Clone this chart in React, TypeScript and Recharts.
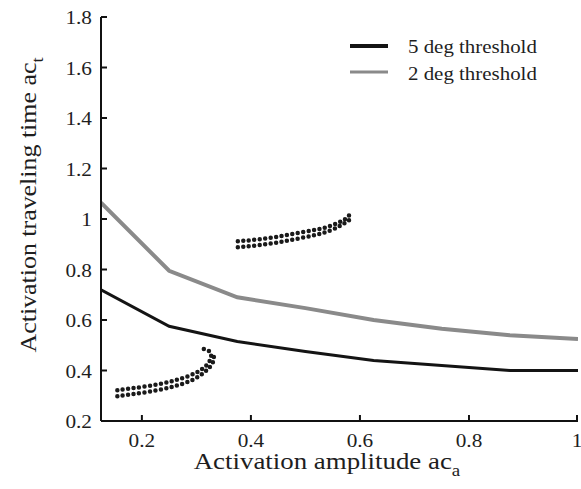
import React from "react";
import { ComposedChart, Line, XAxis, YAxis } from "recharts";

// Activation amplitude samples and the travel times for each threshold
const amplitudes = [0.125, 0.25, 0.375, 0.5, 0.625, 0.75, 0.875, 1];
const time5deg = [0.72, 0.575, 0.515, 0.475, 0.44, 0.42, 0.4, 0.4];
const time2deg = [1.065, 0.795, 0.69, 0.647, 0.6, 0.565, 0.54, 0.525];

const xTicks = [0.2, 0.4, 0.6, 0.8, 1];
const yTicks = [0.2, 0.4, 0.6, 0.8, 1, 1.2, 1.4, 1.6, 1.8];

// Dotted trajectory traces, each drawn as two neighbouring rows of beads
const upperTop: [number, number][] = [
  [0.376, 0.912], [0.4, 0.916], [0.43, 0.924], [0.46, 0.934], [0.49, 0.946],
  [0.52, 0.958], [0.545, 0.972], [0.565, 0.99], [0.578, 1.008], [0.582, 1.028],
];
const upperBottom: [number, number][] = [
  [0.376, 0.888], [0.4, 0.893], [0.43, 0.901], [0.46, 0.911], [0.49, 0.924],
  [0.52, 0.938], [0.545, 0.954], [0.565, 0.975], [0.582, 0.998],
];
const lowerTop: [number, number][] = [
  [0.155, 0.322], [0.18, 0.329], [0.21, 0.338], [0.24, 0.35], [0.265, 0.364],
  [0.29, 0.382], [0.31, 0.405], [0.322, 0.43], [0.327, 0.455], [0.324, 0.475],
  [0.316, 0.484], [0.305, 0.487],
];
const lowerBottom: [number, number][] = [
  [0.155, 0.298], [0.18, 0.306], [0.21, 0.315], [0.24, 0.327], [0.265, 0.341],
  [0.29, 0.36], [0.31, 0.385], [0.325, 0.415], [0.332, 0.445], [0.33, 0.47],
];

const SERIES = [
  { key: "t5", name: "5 deg threshold", color: "#141414", width: 3, legendWidth: 4 },
  { key: "t2", name: "2 deg threshold", color: "#8a8a8a", width: 4, legendWidth: 3 },
];

const FONT = "Liberation Serif";
const INK = "#1e1e1e";

const rows = amplitudes.map((x, i) => ({ x, t5: time5deg[i], t2: time2deg[i] }));
const traces = [upperTop, upperBottom, lowerTop, lowerBottom].map((pts) =>
  pts.map(([x, y]) => ({ x, y }))
);

// serif text, stretched a little horizontally like the printed figure
const Label = ({ x, y, anchor = "start", size, sx = 1.12, rotate = 0, children }: any) => (
  <text
    transform={`translate(${x} ${y}) rotate(${rotate}) scale(${sx} 1)`}
    textAnchor={anchor}
    fontFamily={FONT}
    fontSize={size}
    fill={INK}
  >
    {children}
  </text>
);

const XLabel = () => (
  <Label x={327} y={469} anchor="middle" size={24}>
    Activation amplitude ac
    <tspan dy={7} fontSize={17}>a</tspan>
  </Label>
);

const YLabel = () => (
  <Label x={36} y={205} anchor="middle" size={24} rotate={-90} sx={1.08}>
    Activation traveling time ac
    <tspan dy={7} fontSize={17}>t</tspan>
  </Label>
);

// Inward tick mark plus its label
const AxisTick = ({ x, y, payload, orientation }: any) => {
  const label = String(payload.value);
  if (orientation === "bottom") {
    return (
      <g>
        <line x1={x} x2={x} y1={421} y2={415} stroke="#111" strokeWidth={2} />
        <Label x={x} y={447} anchor="middle" size={19}>{label}</Label>
      </g>
    );
  }
  return (
    <g>
      <line x1={101} x2={107} y1={y} y2={y} stroke="#111" strokeWidth={2} />
      <Label x={92} y={y + 7} anchor="end" size={19}>{label}</Label>
    </g>
  );
};

const LegendBox = () => (
  <svg width={581} height={489} style={{ position: "absolute", left: 0, top: 0, pointerEvents: "none" }}>
    {SERIES.map((s, i) => (
      <g key={s.key}>
        <line x1={350} x2={388} y1={46 + i * 26} y2={46 + i * 26} stroke={s.color} strokeWidth={s.legendWidth} />
        <Label x={408} y={53 + i * 27} size={19} sx={1.1}>{s.name}</Label>
      </g>
    ))}
  </svg>
);

export default function App() {
  return (
    <div style={{ position: "absolute", left: 0, top: 0, width: 581, height: 489, background: "#fff" }}>
      <ComposedChart width={581} height={489} margin={{ top: 17, right: 3, bottom: 0, left: 0 }}>
        <XAxis
          dataKey="x"
          type="number"
          domain={[0.125, 1]}
          ticks={xTicks}
          allowDataOverflow
          height={68}
          stroke="#111"
          strokeWidth={2}
          tickLine={false}
          tick={<AxisTick orientation="bottom" />}
          label={<XLabel />}
        />
        <YAxis
          type="number"
          domain={[0.2, 1.8]}
          ticks={yTicks}
          allowDataOverflow
          width={101}
          stroke="#111"
          strokeWidth={2}
          tickLine={false}
          tick={<AxisTick orientation="left" />}
          label={<YLabel />}
        />
        {SERIES.map((s) => (
          <Line
            key={s.key}
            data={rows}
            dataKey={s.key}
            name={s.name}
            type="linear"
            stroke={s.color}
            strokeWidth={s.width}
            dot={false}
            isAnimationActive={false}
          />
        ))}
        {traces.map((pts, i) => (
          <Line
            key={`trace-${i}`}
            data={pts}
            dataKey="y"
            type="natural"
            stroke="#1a1a1a"
            strokeWidth={4.5}
            strokeLinecap="round"
            strokeDasharray="0 5.5"
            dot={false}
            legendType="none"
            isAnimationActive={false}
          />
        ))}
      </ComposedChart>
      <LegendBox />
    </div>
  );
}
